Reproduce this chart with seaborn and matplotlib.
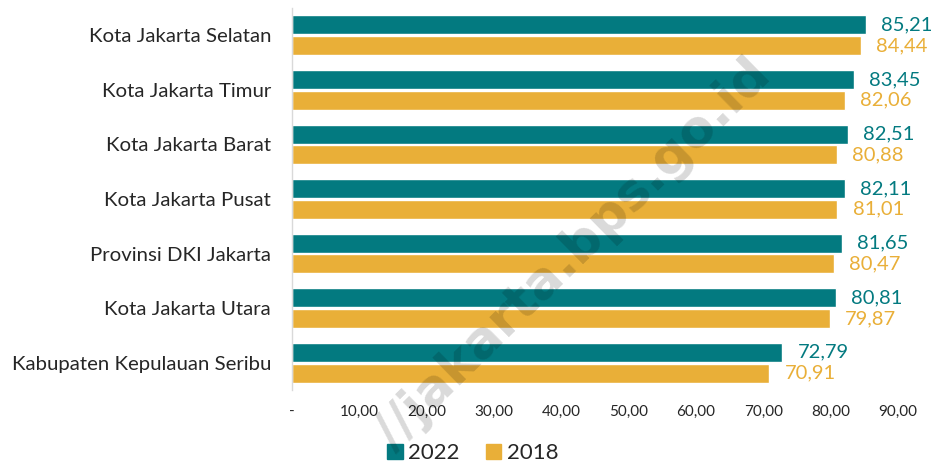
import matplotlib
matplotlib.use("Agg")
import matplotlib.pyplot as plt
import seaborn as sns
import pandas as pd
from matplotlib.ticker import FuncFormatter

categories = ["Kota Jakarta Selatan", "Kota Jakarta Timur", "Kota Jakarta Barat",
              "Kota Jakarta Pusat", "Provinsi DKI Jakarta", "Kota Jakarta Utara",
              "Kabupaten Kepulauan Seribu"]
values_2022 = [85.21, 83.45, 82.51, 82.11, 81.65, 80.81, 72.79]
values_2018 = [84.44, 82.06, 80.88, 81.01, 80.47, 79.87, 70.91]
series = ["2022", "2018"]
xticks = [0, 10, 20, 30, 40, 50, 60, 70, 80, 90]

TEAL = "#037A80"
GOLD = "#E9AF38"
TXT = "#262626"

df = pd.DataFrame({
    "kategori": categories * 2,
    "nilai": values_2022 + values_2018,
    "tahun": [series[0]] * len(categories) + [series[1]] * len(categories),
})

sns.set_theme(style="white")
plt.rcParams["font.family"] = ["Lato", "DejaVu Sans"]

fig = plt.figure(figsize=(9.35, 4.65), dpi=100)
ax = fig.add_axes([292 / 935, 1 - 390 / 465, 606 / 935, 382 / 465])

sns.barplot(data=df, y="kategori", x="nilai", hue="tahun", orient="h",
            palette=[TEAL, GOLD], saturation=1, width=0.76, gap=0.08, ax=ax,
            legend=False, order=categories, hue_order=series)

ax.set_xlim(0, 90)
ax.set_ylim(6.5, -0.5)
ax.set_xticks(xticks)
ax.xaxis.set_major_formatter(FuncFormatter(lambda v, p: "-" if v == 0 else f"{v:.2f}".replace(".", ",")))
ax.tick_params(axis="x", labelsize=11, colors=TXT, length=0, pad=11)
ax.tick_params(axis="y", labelsize=14.7, colors=TXT, length=0, pad=15)
ax.set_xlabel("")
ax.set_ylabel("")
for s in ["top", "right", "bottom"]:
    ax.spines[s].set_visible(False)
ax.spines["left"].set_color("#d9d9d9")
ax.spines["left"].set_linewidth(1)

for container, color in zip(ax.containers, [TEAL, GOLD]):
    labels = [f"{v:.2f}".replace(".", ",") for v in container.datavalues]
    ax.bar_label(container, labels=labels, padding=11, color=color, fontsize=14.5)

handles = [plt.Rectangle((0, 0), 1, 1, color=c) for c in [TEAL, GOLD]]
fig.legend(handles, series, loc="center", bbox_to_anchor=(473 / 935, 1 - 453 / 465),
           ncol=2, frameon=False, fontsize=16, handlelength=0.68, handleheight=0.68,
           handletextpad=0.25, columnspacing=1.2, labelcolor=TXT)

fig.text(573 / 935, 1 - 255 / 465, "//jakarta.bps.go.id", rotation=44.5,
         rotation_mode="anchor", ha="center", va="center", fontsize=37,
         fontweight="bold", color="black", alpha=0.15, zorder=10,
         family=["DejaVu Sans"])

fig.savefig("out.png", dpi=100)
